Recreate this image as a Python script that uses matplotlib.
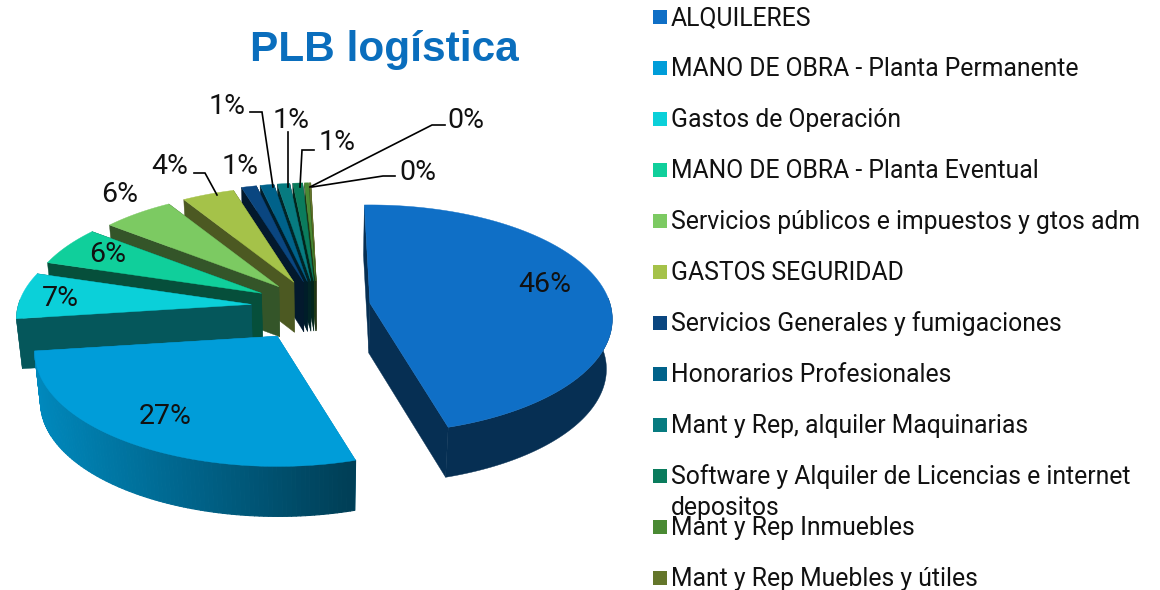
import numpy as np
import matplotlib
matplotlib.use("Agg")
import matplotlib.pyplot as plt
from matplotlib.collections import PolyCollection

# chart data
categories = [
    "ALQUILERES",
    "MANO DE OBRA - Planta Permanente",
    "Gastos de Operación",
    "MANO DE OBRA - Planta Eventual",
    "Servicios públicos e impuestos y gtos adm",
    "GASTOS SEGURIDAD",
    "Servicios Generales y fumigaciones",
    "Honorarios Profesionales",
    "Mant y Rep, alquiler Maquinarias",
    "Software y Alquiler de Licencias e internet\ndepositos",
    "Mant y Rep Inmuebles",
    "Mant y Rep Muebles y útiles",
]
values = [45.8, 27.45, 6.8, 5.8, 5.6, 4.1, 1.15, 1.05, 0.95, 0.75, 0.3, 0.12]

# styles
colors = ["#0F6FC6", "#009DD9", "#0BD0D9", "#10CF9B", "#7CCA62", "#A5C249",
          "#0A4680", "#00628A", "#077B80", "#0A7C5D", "#4A8A33", "#64762A"]
sideShade = [0.42, 0.85, 0.42, 0.38, 0.42, 0.46, 0.35, 0.3, 0.3, 0.3, 0.4, 0.4]
explode = [0.22, 0.30, 0.28, 0.27, 0.25, 0.25, 0.24, 0.24, 0.24, 0.24, 0.24, 0.24]
radius = [1, 1, 0.97, 0.97, 0.97, 0.97, 1, 1, 1, 1, 1, 1]
labelPos = [(545, 284), (165, 416), (60, 299), (108, 255), (120, 194), (170, 167),
            (240, 167), (227, 106), (291, 121), (337, 143), (466, 120), (418, 172)]
leaders = {
    5: [(217, 195), (205, 173), (194, 173)],
    7: [(273, 187), (262, 112), (250, 112)],
    8: [(288, 187), (288, 132)],
    9: [(300, 187), (302, 150), (314, 150)],
    10: [(310, 187), (432, 125), (445, 125)],
    11: [(312, 187), (383, 176), (395, 176)],
}

cx, cy = 318, 307      # pie centre on the canvas
rx, ry = 240, 112      # radii of the tilted disc
persp = 0.14           # front of the disc looks bigger than the back
depth = 50             # thickness of the pie
startAngle = 91.5

plt.rcParams["font.family"] = "Roboto"


# Tilted disc: unit circle coordinates to canvas offsets.
def project(u, v):
    w = 1.0 / (1.0 + persp * v)
    return rx * u * w, -ry * v * w


# The lower edge of the pie is slightly narrower than the top.
def lower(pts):
    pts = np.asarray(pts, dtype=float)
    return np.column_stack((cx + (pts[:, 0] - cx) * 0.98, pts[:, 1] + depth))


def shade(color, f):
    return tuple(c * f for c in matplotlib.colors.to_rgb(color))


def drawSlice(ax, i, start, end):
    mid = (start + end) / 2
    ox, oy = project(explode[i] * np.cos(mid), explode[i] * np.sin(mid))
    apex = np.array([cx + ox, cy + oy])

    t = np.linspace(start, end, max(int(abs(end - start) * 60), 3))
    px, py = project(radius[i] * np.cos(t), radius[i] * np.sin(t))
    rim = np.column_stack((apex[0] + px, apex[1] + py))
    side = shade(colors[i], sideShade[i])

    # radial cut faces, the far one first
    for edge in (rim[-1], rim[0]):
        top = np.array([apex, edge])
        bot = lower(top)
        ax.fill([top[0, 0], top[1, 0], bot[1, 0], bot[0, 0]],
                [top[0, 1], top[1, 1], bot[1, 1], bot[0, 1]],
                color=side, lw=0.3, zorder=2)

    # outer wall, only the part looking at the viewer
    front = np.sin(t) <= 0.05
    bot = lower(rim)
    if i == 1:
        # the big front slice has a dark gradient running left to right
        quads, cols = [], []
        for k in range(len(rim) - 1):
            if front[k]:
                g = np.clip((rim[k, 0] - 35) / 315, 0, 1)
                quads.append([rim[k], rim[k + 1], bot[k + 1], bot[k]])
                cols.append(shade(colors[i], 0.87 - 0.47 * g))
        ax.add_collection(PolyCollection(quads, facecolors=cols, edgecolors=cols,
                                         linewidths=0.8, zorder=2))
    elif front.sum() > 1:
        ax.fill(*np.vstack((rim[front], bot[front][::-1])).T, color=side, lw=0.3, zorder=2)

    ax.fill(*np.vstack((apex, rim)).T, color=colors[i], lw=0.3, zorder=2)


fig = plt.figure(figsize=(11.6, 5.9), dpi=100)
ax = fig.add_axes([0, 0, 1, 1])
ax.set_xlim(0, 1160)
ax.set_ylim(590, 0)
ax.axis("off")

# slice angles, clockwise from the top
total = sum(values)
edges = np.radians(startAngle) - 2 * np.pi * np.concatenate(([0], np.cumsum(values))) / total

# back slices first, the two big ones last
for i in list(range(len(values) - 1, 1, -1)) + [0, 1]:
    drawSlice(ax, i, edges[i], edges[i + 1])

for i, val in enumerate(values):
    ax.text(labelPos[i][0], labelPos[i][1], f"{round(val)}%", fontsize=20.5,
            ha="center", va="center", color="#111111", zorder=5)

for pts in leaders.values():
    ax.plot(*zip(*pts), color="black", lw=1.2, zorder=4, solid_joinstyle="miter")

ax.text(384, 50, "PLB logística", fontsize=30.5, fontweight="bold", family="Liberation Sans",
        color="#0A6EBD", ha="center", va="center")

# legend
for i, name in enumerate(categories):
    y = 17 + 51 * i
    ax.scatter([659.5], [y], marker="s", s=95, color=colors[i], lw=0, zorder=3)
    ax.text(671, y + 1, name.split("\n")[0], fontsize=17.8, ha="left", va="center", color="#111111")
    if "\n" in name:
        ax.text(671, y + 32, name.split("\n")[1], fontsize=17.8, ha="left", va="center", color="#111111")

fig.savefig("out.png", dpi=100)
plt.close()
